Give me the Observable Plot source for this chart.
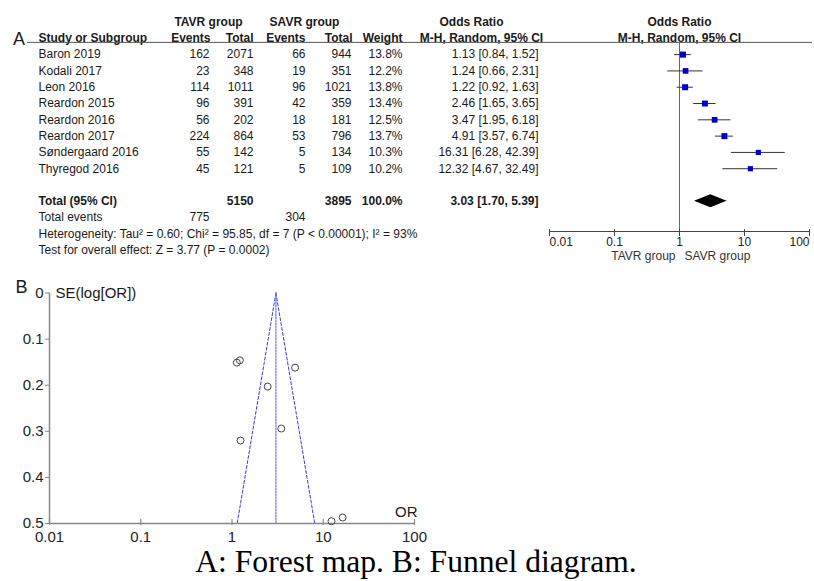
<!DOCTYPE html>
<html><head><meta charset="utf-8">
<script src="https://cdn.jsdelivr.net/npm/d3@7"></script>
<script src="https://cdn.jsdelivr.net/npm/@observablehq/plot@0.6"></script>
<style>
body{margin:0;background:#fff;}
#wrap{position:relative;width:814px;height:581px;overflow:hidden;font-family:"Liberation Sans",Arial,sans-serif;}
#forest{position:absolute;left:0;top:0;}
#funnel{position:absolute;left:0;top:270px;}
#caption{position:absolute;left:0;top:544px;width:832px;text-align:center;font-family:"Liberation Serif","Times New Roman",serif;font-size:31.6px;line-height:36px;color:#000;}
</style>
</head><body>
<div id="wrap"><div id="forest"></div><div id="funnel"></div><div id="caption">A: Forest map. B: Funnel diagram.</div></div>
<script>
// ---------- data ----------
const studies = ["Baron 2019","Kodali 2017","Leon 2016","Reardon 2015","Reardon 2016","Reardon 2017","Søndergaard 2016","Thyregod 2016"];
const tavrEvents = [162,23,114,96,56,224,55,45];
const tavrTotal = [2071,348,1011,391,202,864,142,121];
const savrEvents = [66,19,96,42,18,53,5,5];
const savrTotal = [944,351,1021,359,181,796,134,109];
const weights = [13.8,12.2,13.8,13.4,12.5,13.7,10.3,10.2];
const orValues = [1.13,1.24,1.22,2.46,3.47,4.91,16.31,12.32];
const ciLow = [0.84,0.66,0.92,1.65,1.95,3.57,6.28,4.67];
const ciHigh = [1.52,2.31,1.63,3.65,6.18,6.74,42.39,32.49];
const totalOR = 3.03, totalLow = 1.70, totalHigh = 5.39;
const totalTavrN = 5150, totalSavrN = 3895, totalWeight = "100.0%";
const totalTavrEvents = 775, totalSavrEvents = 304;
const heterogeneityText = "Heterogeneity: Tau² = 0.60; Chi² = 95.85, df = 7 (P < 0.00001); I² = 93%";
const overallText = "Test for overall effect: Z = 3.77 (P = 0.0002)";
const forestTicks = [0.01,0.1,1,10,100];
const funnelSE = [0.151,0.320,0.146,0.203,0.294,0.162,0.487,0.495];
const funnelApexOR = 3.03, funnelBaseSE = 0.5, funnelBaseLow = 1.14, funnelBaseHigh = 8.07;
const funnelXTicks = [0.01,0.1,1,10,100];
const funnelYTicks = [0,0.1,0.2,0.3,0.4,0.5];

// ---------- forest plot ----------
const FONT = '"Liberation Sans", Arial, sans-serif';
const INK = "#1a1a1a";
const rows = studies.map((s,i)=>({row:i, study:s, te:String(tavrEvents[i]), tt:String(tavrTotal[i]), se:String(savrEvents[i]), st:String(savrTotal[i]),
  w:weights[i], or:orValues[i], lo:ciLow[i], hi:ciHigh[i],
  ci:`${orValues[i].toFixed(2)} [${ciLow[i].toFixed(2)}, ${ciHigh[i].toFixed(2)}]`}));
const TOTAL_ROW = 9, EVENTS_ROW = 10, HET_ROW = 11, TEST_ROW = 12, HEAD1 = -2, HEAD2 = -1, RULE_ROW = -0.75, AXIS_ROW = 10.85;
const DH = 0.4;
const diamond = [{x: totalLow, y1: TOTAL_ROW, y2: TOTAL_ROW},{x: totalOR, y1: TOTAL_ROW - DH, y2: TOTAL_ROW + DH},{x: totalHigh, y1: TOTAL_ROW, y2: TOTAL_ROW}];

const T = (arr, o) => Plot.text(arr, {text: d => String(d), frameAnchor: "left", fontSize: 12, fill: INK, ...o});
const col = (field, dx, o={}) => Plot.text(rows, {y: "row", text: field, frameAnchor: "left", dx, textAnchor: "end", fontSize: 12, fill: INK, ...o});
const tickLabel = (vals, anchor, o={}) => Plot.text(vals, {x: d => d, frameAnchor: "bottom", text: d => String(d), textAnchor: anchor, ...o});

const forest = Plot.plot({
  width: 814, height: 270, marginLeft: 0, marginRight: 0, marginTop: 21.5, marginBottom: 39,
  x: {type: "log", domain: [0.01, 100], range: [549, 809], axis: null},
  y: {domain: [HEAD1, AXIS_ROW], range: [21.5, 231], axis: null},
  r: {type: "sqrt", domain: [0, 13.8], range: [0, 3.4]},
  style: {fontFamily: FONT, color: INK, background: "transparent"},
  marks: [
    // header
    T(["TAVR group"], {y: HEAD1, dx: 208, textAnchor: "middle", fontWeight: "bold"}),
    T(["SAVR group"], {y: HEAD1, dx: 304, textAnchor: "middle", fontWeight: "bold"}),
    T(["Odds Ratio"], {y: HEAD1, dx: 471, textAnchor: "middle", fontWeight: "bold"}),
    Plot.text(["Odds Ratio"], {x: 1, y: HEAD1, text: d => d, fontSize: 12, fontWeight: "bold", fill: INK}),
    T(["Study or Subgroup"], {y: HEAD2, dx: 38, textAnchor: "start", fontWeight: "bold"}),
    T(["Events"], {y: HEAD2, dx: 210, textAnchor: "end", fontWeight: "bold"}),
    T(["Total"], {y: HEAD2, dx: 253, textAnchor: "end", fontWeight: "bold"}),
    T(["Events"], {y: HEAD2, dx: 305, textAnchor: "end", fontWeight: "bold"}),
    T(["Total"], {y: HEAD2, dx: 352, textAnchor: "end", fontWeight: "bold"}),
    T(["Weight"], {y: HEAD2, dx: 402, textAnchor: "end", fontWeight: "bold"}),
    T(["M-H, Random, 95% CI"], {y: HEAD2, dx: 481, textAnchor: "middle", fontWeight: "bold"}),
    Plot.text(["M-H, Random, 95% CI"], {x: 1, y: HEAD2, text: d => d, fontSize: 12, fontWeight: "bold", fill: INK}),
    Plot.ruleY([RULE_ROW], {insetLeft: 27, insetRight: 2, stroke: "#555", strokeWidth: 1}),
    T(["A"], {y: RULE_ROW, dx: 18.5, dy: -3, textAnchor: "middle", fontSize: 18}),
    // study rows
    Plot.text(rows, {y: "row", text: "study", frameAnchor: "left", dx: 38, textAnchor: "start", fontSize: 12, fill: INK}),
    col("te", 209), col("tt", 253), col("se", 305), col("st", 351),
    col(d => d.w.toFixed(1) + "%", 402),
    col("ci", 538),
    // totals
    T(["Total (95% CI)"], {y: TOTAL_ROW, dx: 38, textAnchor: "start", fontWeight: "bold"}),
    T([totalTavrN], {y: TOTAL_ROW, dx: 253, textAnchor: "end", fontWeight: "bold"}),
    T([totalSavrN], {y: TOTAL_ROW, dx: 351, textAnchor: "end", fontWeight: "bold"}),
    T([totalWeight], {y: TOTAL_ROW, dx: 402, textAnchor: "end", fontWeight: "bold"}),
    T([`${totalOR.toFixed(2)} [${totalLow.toFixed(2)}, ${totalHigh.toFixed(2)}]`], {y: TOTAL_ROW, dx: 538, textAnchor: "end", fontWeight: "bold"}),
    T(["Total events"], {y: EVENTS_ROW, dx: 38, textAnchor: "start"}),
    T([totalTavrEvents], {y: EVENTS_ROW, dx: 209, textAnchor: "end"}),
    T([totalSavrEvents], {y: EVENTS_ROW, dx: 305, textAnchor: "end"}),
    T([heterogeneityText], {y: HET_ROW, dx: 38, textAnchor: "start"}),
    T([overallText], {y: TEST_ROW, dx: 38, textAnchor: "start"}),
    // graphic
    Plot.ruleX([1], {y1: RULE_ROW, y2: AXIS_ROW, stroke: "#666", strokeWidth: 1}),
    Plot.ruleY(rows, {y: "row", x1: "lo", x2: "hi", stroke: "#333", strokeWidth: 1}),
    Plot.dot(rows, {x: "or", y: "row", r: "w", symbol: "square", fill: "#0000c8", stroke: null}),
    Plot.areaY(diamond, {x: "x", y1: "y1", y2: "y2", fill: "#000"}),
    // axis
    Plot.ruleY([AXIS_ROW], {x1: 0.01, x2: 100, stroke: "#444", strokeWidth: 1.2}),
    Plot.ruleX(forestTicks, {x: d => d, y1: AXIS_ROW, y2: AXIS_ROW, insetTop: -2, insetBottom: -5, stroke: "#444"}),
    tickLabel(forestTicks.slice(0, 1), "start", {dy: 14, fontSize: 12, fill: "#222"}),
    tickLabel(forestTicks.slice(1, -1), "middle", {dy: 14, fontSize: 12, fill: "#222"}),
    tickLabel(forestTicks.slice(-1), "end", {dy: 14, fontSize: 12, fill: "#222"}),
    Plot.text(["TAVR group"], {x: 1, frameAnchor: "bottom", dy: 28, dx: -4, textAnchor: "end", text: d => d, fontSize: 12, fill: "#333"}),
    Plot.text(["SAVR group"], {x: 1, frameAnchor: "bottom", dy: 28, dx: 5, textAnchor: "start", text: d => d, fontSize: 12, fill: "#333"})
  ]
});
document.getElementById("forest").append(forest);

// ---------- funnel plot ----------
const pts = studies.map((s,i)=>({or: orValues[i], se: funnelSE[i]}));
const leftEdge = [{or: funnelApexOR, se: 0},{or: funnelBaseLow, se: funnelBaseSE}];
const rightEdge = [{or: funnelApexOR, se: 0},{or: funnelBaseHigh, se: funnelBaseSE}];
const center = [{or: funnelApexOR, se: 0},{or: funnelApexOR, se: funnelBaseSE}];
const AX = "#888";
const funnel = Plot.plot({
  width: 814, height: 276, marginLeft: 49, marginRight: 400, marginTop: 22.5, marginBottom: 23,
  x: {type: "log", domain: [0.01, 100], axis: null},
  y: {domain: [0, 0.5], range: [22.5, 253], axis: null},
  style: {fontFamily: FONT, color: INK, background: "transparent"},
  marks: [
    Plot.line(leftEdge, {x: "or", y: "se", stroke: "#3a3ae0", strokeWidth: 1, strokeDasharray: "3,2"}),
    Plot.line(rightEdge, {x: "or", y: "se", stroke: "#3a3ae0", strokeWidth: 1, strokeDasharray: "3,2"}),
    Plot.line(center, {x: "or", y: "se", stroke: "#7a7af2", strokeWidth: 1.3, strokeDasharray: "1.5,1.5"}),
    Plot.ruleX([0.01], {y1: 0, y2: 0.5, stroke: AX, strokeWidth: 1.5}),
    Plot.ruleY([0.5], {x1: 0.01, x2: 100, stroke: AX, strokeWidth: 1.5}),
    Plot.axisY({ticks: funnelYTicks, tickSize: 4, tickPadding: 2, tickFormat: d => String(d), fontSize: 15, label: null, stroke: AX, fill: "#222"}),
    Plot.ruleX(funnelXTicks, {x: d => d, y1: 0.5, y2: 0.5, insetTop: -4, insetBottom: -2, stroke: AX, strokeWidth: 1.2}),
    Plot.axisX({ticks: funnelXTicks, tickSize: 0, tickPadding: 8, tickFormat: d => String(d), fontSize: 15, label: null, fill: "#222"}),
    Plot.dot(pts, {x: "or", y: "se", r: 3.5, stroke: "#444", strokeWidth: 1, fill: "none"}),
    Plot.text(["B"], {x: 0.01, y: 0, dx: -28, dy: -5.5, text: d => d, fontSize: 18, fill: INK}),
    Plot.text(["SE(log[OR])"], {x: 0.01, y: 0, dx: 6, dy: 0.5, textAnchor: "start", text: d => d, fontSize: 15, fill: INK}),
    Plot.text(["OR"], {x: 100, y: 0.5, dx: 3, dy: -11.5, textAnchor: "end", text: d => d, fontSize: 15, fill: INK})
  ]
});
document.getElementById("funnel").append(funnel);
</script>
</body></html>
